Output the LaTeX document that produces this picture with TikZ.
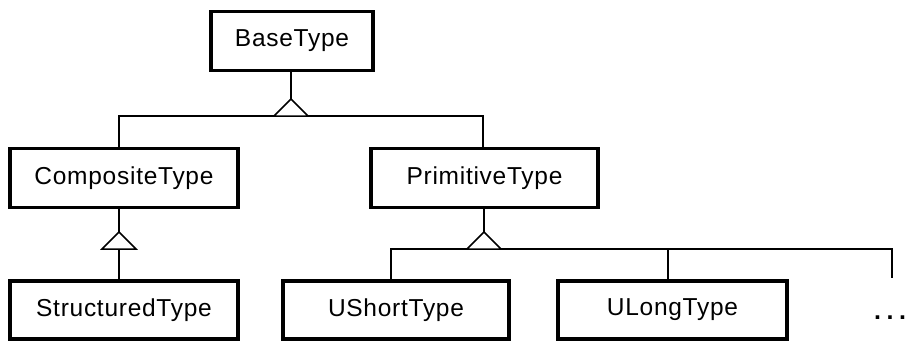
\documentclass[tikz,border=0pt]{standalone}
\usepackage{fontspec}
\setmainfont[LetterSpace=3]{Liberation Sans}
\begin{document}
\begin{tikzpicture}[x=1pt,y=-1pt,
  cls/.style={draw, line width=3.6pt, fill=white, inner sep=0pt,
    font=\fontsize{24.5}{28}\selectfont},
  link/.style={line width=1.5pt},
  gen/.style={draw, line width=1.5pt, fill=white, line join=miter}]
\useasboundingbox (0,0) rectangle (906,343);

% classes
\node[cls, minimum width=162pt, minimum height=59pt] (base) at (292,41) {BaseType};
\node[cls, minimum width=228pt, minimum height=59pt] (comp) at (124,178) {CompositeType};
\node[cls, minimum width=227pt, minimum height=59pt] (prim) at (484.5,178) {PrimitiveType};
\node[cls, minimum width=228pt, minimum height=58pt] (struct) at (124,310) {StructuredType};
\node[cls, minimum width=226pt, minimum height=58pt] (ushort) at (396,310) {UShortType};
\node[cls, minimum width=229pt, minimum height=58pt] (ulong) at (672.5,310) {ULongType};
\node[font={\fontsize{25}{28}\selectfont\bfseries}, anchor=base west, inner sep=0pt] (more) at (874,319) {.\hspace{5.5pt}.\hspace{5.5pt}.};

% bus coordinates
\coordinate (t1) at (291,116);
\coordinate (bl1) at (119,116);
\coordinate (br1) at (483,116);
\coordinate (t2) at (119,249);
\coordinate (t3) at (484,249);
\coordinate (bl3) at (391,249);
\coordinate (bm3) at (668,249);
\coordinate (br3) at (892,249);
\coordinate (end3) at (892,278);

% BaseType hierarchy
\draw[link] (bl1 |- comp.north) -- (bl1) -- (br1) -- (br1 |- prim.north);
\draw[link] (t1 |- base.south) -- (t1);
\draw[gen] (t1) ++(-17,0) -- ++(17,-17) -- ++(17,17) -- cycle;

% CompositeType hierarchy
\draw[link] (t2 |- comp.south) -- (t2 |- struct.north);
\draw[gen] (t2) ++(-17,0) -- ++(17,-17) -- ++(17,17) -- cycle;

% PrimitiveType hierarchy
\draw[link] (bl3 |- ushort.north) -- (bl3) -- (br3) -- (end3);
\draw[link] (bm3) -- (bm3 |- ulong.north);
\draw[link] (t3 |- prim.south) -- (t3);
\draw[gen] (t3) ++(-17,0) -- ++(17,-17) -- ++(17,17) -- cycle;
\end{tikzpicture}
\end{document}
